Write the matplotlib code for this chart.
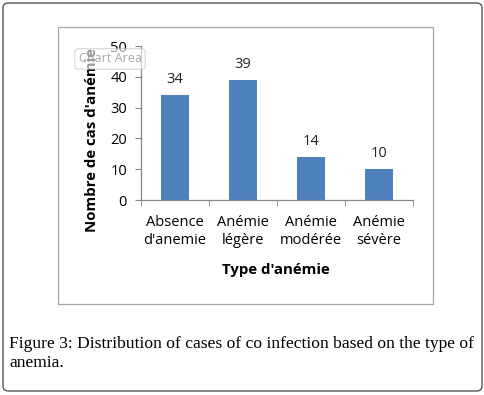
import matplotlib
matplotlib.use("Agg")
import matplotlib.pyplot as plt
from matplotlib.patches import Rectangle, FancyBboxPatch

categories = ["Absence\nd'anemie", "Anémie\nlégère", "Anémie\nmodérée", "Anémie\nsévère"]
cases = [34, 39, 14, 10]
y_ticks = [0, 10, 20, 30, 40, 50]

W, H = 485, 395
fig = plt.figure(figsize=(W / 100, H / 100), dpi=100)
plt.rcParams['font.family'] = ['Open Sans', 'DejaVu Sans']

def fx(px):
    return px / W

def fy(py):
    return 1 - py / H

# outer rounded frame
outer = FancyBboxPatch((fx(3), fy(391)), fx(479), 388 / H,
                       boxstyle="round,pad=0,rounding_size=0.012",
                       transform=fig.transFigure, facecolor='white',
                       edgecolor='#555555', linewidth=1.0, zorder=-2)
fig.patches.append(outer)

# inner chart frame
inner = Rectangle((fx(58), fy(304)), fx(375), 277 / H, transform=fig.transFigure,
                  facecolor='white', edgecolor='#a6a6a6', linewidth=0.9, zorder=-1)
fig.patches.append(inner)

ax = fig.add_axes([fx(141), fy(200), fx(272), 154 / H])
ax.set_zorder(2)
ax.patch.set_alpha(0)
x = list(range(len(categories)))
bars = ax.bar(x, cases, width=0.4, color='#4F81BD')
for xi, v in zip(x, cases):
    ax.annotate(str(v), (xi, v), xytext=(0, 6), textcoords='offset points',
                ha='center', va='bottom', fontsize=10.5, color='#222222')

ax.set_xlim(-0.5, 3.5)
ax.set_ylim(0, 50)
ax.set_yticks(y_ticks)
ax.set_xticks(x)
ax.set_xticklabels(categories, fontsize=10.5, linespacing=1.25)
ax.set_xticks([-0.5, 0.5, 1.5, 2.5, 3.5], minor=True)
ax.tick_params(axis='x', which='major', length=0, pad=11)
ax.tick_params(axis='x', which='minor', length=4, color='#888888', direction='out')
ax.tick_params(axis='y', length=4, color='#888888', direction='out', labelsize=10.5, pad=6)
for s in ['top', 'right']:
    ax.spines[s].set_visible(False)
for s in ['left', 'bottom']:
    ax.spines[s].set_color('#888888')
    ax.spines[s].set_linewidth(0.9)

fig.text(fx(276), fy(270), "Type d'anémie", ha='center', va='center',
         fontsize=10.8, fontweight='bold')
fig.text(fx(92), fy(140), "Nombre de cas d'anémie", ha='center', va='center',
         rotation=90, fontsize=10.8, fontweight='bold')

# tooltip left in the screenshot
fig.text(fx(110), fy(59), "Chart Area", ha='center', va='center', fontsize=9,
         color='#999999', alpha=0.85, zorder=5,
         bbox=dict(boxstyle='round,pad=0.3', facecolor='white', edgecolor='#bbbbbb',
                   alpha=0.6, linewidth=0.8))

caption = "Figure 3: Distribution of cases of co infection based on the type of\nanemia."
fig.text(fx(9), fy(336), caption, ha='left', va='top', fontsize=12.6,
         family='Liberation Serif', linespacing=1.25)

fig.savefig('out.png', dpi=100)
